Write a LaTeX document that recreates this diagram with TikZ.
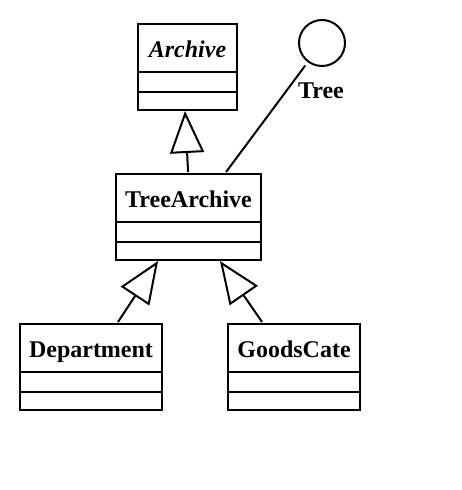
\documentclass[tikz,border=0pt]{standalone}
\usepackage{fontspec}
\setmainfont{Liberation Serif}
\usetikzlibrary{arrows.meta,calc}
\begin{document}
\begin{tikzpicture}[x=1pt,y=-1pt,
  box/.style={draw,line width=2pt,inner sep=0pt,outer sep=0pt,anchor=north west,
    font=\fontsize{24}{28}\selectfont\bfseries,text height=22pt,text depth=4pt},
  cmp/.style={draw,line width=2pt,inner sep=0pt,outer sep=0pt,anchor=north west},
  inh/.style={line width=2pt,-{Triangle[open,length=42pt,width=34pt,line width=2pt]}},
  lnk/.style={line width=2pt}]
\useasboundingbox (0,0) rectangle (462,490);
% Archive
\node[box,minimum width=99pt,minimum height=48pt] (ar) at (138,24) {\textit{Archive}};
\node[cmp,minimum width=99pt,minimum height=20pt] (ara) at (138,72) {};
\node[cmp,minimum width=99pt,minimum height=18pt] (arb) at (138,92) {};
% Tree interface
\node[draw,circle,line width=2pt,minimum size=46pt,inner sep=0pt] (tree) at (322,43) {};
\node[font=\fontsize{24}{28}\selectfont\bfseries,inner sep=0pt] (treel) at (321,91) {Tree};
% TreeArchive
\node[box,minimum width=145pt,minimum height=48pt] (ta) at (116,174) {TreeArchive};
\node[cmp,minimum width=145pt,minimum height=20pt] (taa) at (116,222) {};
\node[cmp,minimum width=145pt,minimum height=18pt] (tab) at (116,242) {};
% Department
\node[box,minimum width=142pt,minimum height=48pt] (dep) at (20,324) {Department};
\node[cmp,minimum width=142pt,minimum height=20pt] (depa) at (20,372) {};
\node[cmp,minimum width=142pt,minimum height=18pt] (depb) at (20,392) {};
% GoodsCate
\node[box,minimum width=132pt,minimum height=48pt] (gc) at (228,324) {GoodsCate};
\node[cmp,minimum width=132pt,minimum height=20pt] (gca) at (228,372) {};
\node[cmp,minimum width=132pt,minimum height=18pt] (gcb) at (228,392) {};
% connectors
\draw[inh] ($(ta.north west)!0.497!(ta.north east)+(0,-2)$) -- ($(arb.south)+(-2.5,1)$);
\draw[lnk,shorten <=4pt] (tree) -- ($(ta.north west)!0.759!(ta.north east)+(0,-2)$);
\draw[inh] ($(dep.north west)!0.69!(dep.north east)+(0,-2)$) -- ($(tab.south west)!0.29!(tab.south east)+(0,1)$);
\draw[inh] ($(gc.north west)!0.258!(gc.north east)+(0,-2)$) -- ($(tab.south west)!0.717!(tab.south east)+(0,1)$);
\end{tikzpicture}
\end{document}
